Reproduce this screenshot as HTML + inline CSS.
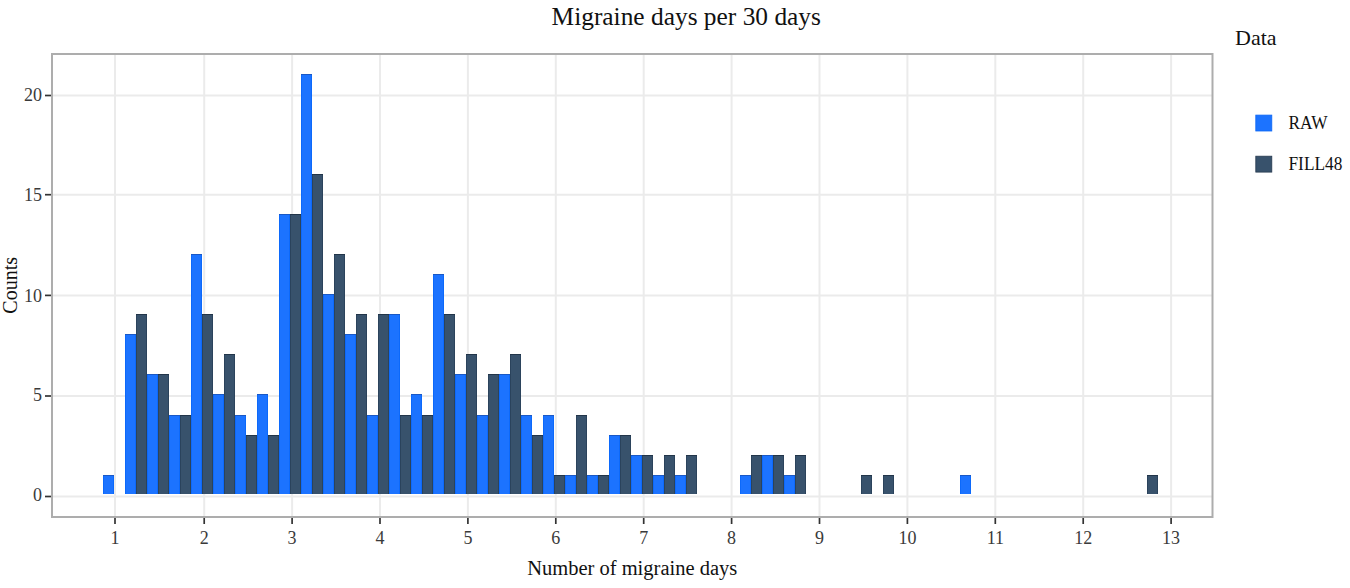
<!DOCTYPE html>
<html><head><meta charset="utf-8"><style>
html,body{margin:0;padding:0;background:#fff;width:1350px;height:588px;overflow:hidden}
svg{display:block}
text{font-family:"Liberation Serif",serif;fill:#222}
.tk{font-size:18px;fill:#3a3a3a}
</style></head><body>
<svg width="1350" height="588" viewBox="0 0 1350 588">
<rect x="0" y="0" width="1350" height="588" fill="#fff"/>
<line x1="115.00" y1="54" x2="115.00" y2="517" stroke="#ebebeb" stroke-width="2"/><line x1="204.20" y1="54" x2="204.20" y2="517" stroke="#ebebeb" stroke-width="2"/><line x1="292.10" y1="54" x2="292.10" y2="517" stroke="#ebebeb" stroke-width="2"/><line x1="380.00" y1="54" x2="380.00" y2="517" stroke="#ebebeb" stroke-width="2"/><line x1="467.90" y1="54" x2="467.90" y2="517" stroke="#ebebeb" stroke-width="2"/><line x1="555.80" y1="54" x2="555.80" y2="517" stroke="#ebebeb" stroke-width="2"/><line x1="643.70" y1="54" x2="643.70" y2="517" stroke="#ebebeb" stroke-width="2"/><line x1="731.60" y1="54" x2="731.60" y2="517" stroke="#ebebeb" stroke-width="2"/><line x1="819.50" y1="54" x2="819.50" y2="517" stroke="#ebebeb" stroke-width="2"/><line x1="907.40" y1="54" x2="907.40" y2="517" stroke="#ebebeb" stroke-width="2"/><line x1="995.30" y1="54" x2="995.30" y2="517" stroke="#ebebeb" stroke-width="2"/><line x1="1083.20" y1="54" x2="1083.20" y2="517" stroke="#ebebeb" stroke-width="2"/><line x1="1171.10" y1="54" x2="1171.10" y2="517" stroke="#ebebeb" stroke-width="2"/><line x1="52" y1="496.50" x2="1212" y2="496.50" stroke="#ebebeb" stroke-width="2"/><line x1="52" y1="396.00" x2="1212" y2="396.00" stroke="#ebebeb" stroke-width="2"/><line x1="52" y1="295.40" x2="1212" y2="295.40" stroke="#ebebeb" stroke-width="2"/><line x1="52" y1="194.70" x2="1212" y2="194.70" stroke="#ebebeb" stroke-width="2"/><line x1="52" y1="95.50" x2="1212" y2="95.50" stroke="#ebebeb" stroke-width="2"/>
<g shape-rendering="crispEdges"><rect x="103" y="475" width="11" height="19" fill="#1c73ff"/><rect x="125" y="334" width="11" height="160" fill="#1c73ff"/><rect x="147" y="374" width="11" height="120" fill="#1c73ff"/><rect x="169" y="415" width="11" height="79" fill="#1c73ff"/><rect x="191" y="254" width="11" height="240" fill="#1c73ff"/><rect x="213" y="394" width="11" height="100" fill="#1c73ff"/><rect x="235" y="415" width="11" height="79" fill="#1c73ff"/><rect x="257" y="394" width="11" height="100" fill="#1c73ff"/><rect x="279" y="214" width="11" height="280" fill="#1c73ff"/><rect x="301" y="74" width="11" height="420" fill="#1c73ff"/><rect x="323" y="294" width="11" height="200" fill="#1c73ff"/><rect x="345" y="334" width="11" height="160" fill="#1c73ff"/><rect x="367" y="415" width="11" height="79" fill="#1c73ff"/><rect x="389" y="314" width="11" height="180" fill="#1c73ff"/><rect x="411" y="394" width="11" height="100" fill="#1c73ff"/><rect x="433" y="274" width="11" height="220" fill="#1c73ff"/><rect x="455" y="374" width="11" height="120" fill="#1c73ff"/><rect x="477" y="415" width="11" height="79" fill="#1c73ff"/><rect x="499" y="374" width="11" height="120" fill="#1c73ff"/><rect x="521" y="415" width="11" height="79" fill="#1c73ff"/><rect x="543" y="415" width="11" height="79" fill="#1c73ff"/><rect x="565" y="475" width="11" height="19" fill="#1c73ff"/><rect x="587" y="475" width="11" height="19" fill="#1c73ff"/><rect x="609" y="435" width="11" height="59" fill="#1c73ff"/><rect x="631" y="455" width="11" height="39" fill="#1c73ff"/><rect x="653" y="475" width="11" height="19" fill="#1c73ff"/><rect x="675" y="475" width="11" height="19" fill="#1c73ff"/><rect x="740" y="475" width="11" height="19" fill="#1c73ff"/><rect x="762" y="455" width="11" height="39" fill="#1c73ff"/><rect x="784" y="475" width="11" height="19" fill="#1c73ff"/><rect x="960" y="475" width="11" height="19" fill="#1c73ff"/><rect x="136" y="314" width="11" height="180" fill="#38526c"/><rect x="158" y="374" width="11" height="120" fill="#38526c"/><rect x="180" y="415" width="11" height="79" fill="#38526c"/><rect x="202" y="314" width="11" height="180" fill="#38526c"/><rect x="224" y="354" width="11" height="140" fill="#38526c"/><rect x="246" y="435" width="11" height="59" fill="#38526c"/><rect x="268" y="435" width="11" height="59" fill="#38526c"/><rect x="290" y="214" width="11" height="280" fill="#38526c"/><rect x="312" y="174" width="11" height="320" fill="#38526c"/><rect x="334" y="254" width="11" height="240" fill="#38526c"/><rect x="356" y="314" width="11" height="180" fill="#38526c"/><rect x="378" y="314" width="11" height="180" fill="#38526c"/><rect x="400" y="415" width="11" height="79" fill="#38526c"/><rect x="422" y="415" width="11" height="79" fill="#38526c"/><rect x="444" y="314" width="11" height="180" fill="#38526c"/><rect x="466" y="354" width="11" height="140" fill="#38526c"/><rect x="488" y="374" width="11" height="120" fill="#38526c"/><rect x="510" y="354" width="11" height="140" fill="#38526c"/><rect x="532" y="435" width="11" height="59" fill="#38526c"/><rect x="554" y="475" width="11" height="19" fill="#38526c"/><rect x="576" y="415" width="11" height="79" fill="#38526c"/><rect x="598" y="475" width="11" height="19" fill="#38526c"/><rect x="620" y="435" width="11" height="59" fill="#38526c"/><rect x="642" y="455" width="11" height="39" fill="#38526c"/><rect x="664" y="455" width="11" height="39" fill="#38526c"/><rect x="686" y="455" width="11" height="39" fill="#38526c"/><rect x="751" y="455" width="11" height="39" fill="#38526c"/><rect x="773" y="455" width="11" height="39" fill="#38526c"/><rect x="795" y="455" width="11" height="39" fill="#38526c"/><rect x="861" y="475" width="11" height="19" fill="#38526c"/><rect x="883" y="475" width="11" height="19" fill="#38526c"/><rect x="1147" y="475" width="11" height="19" fill="#38526c"/><rect x="103" y="475" width="1" height="19" fill="#0c69fb"/><rect x="113" y="475" width="1" height="19" fill="#0c69fb"/><rect x="103" y="475" width="11" height="1" fill="#1a58c4"/><rect x="125" y="334" width="1" height="160" fill="#0c69fb"/><rect x="135" y="334" width="1" height="160" fill="#0c69fb"/><rect x="125" y="334" width="11" height="1" fill="#1a58c4"/><rect x="147" y="374" width="1" height="120" fill="#0c69fb"/><rect x="157" y="374" width="1" height="120" fill="#0c69fb"/><rect x="147" y="374" width="11" height="1" fill="#1a58c4"/><rect x="169" y="415" width="1" height="79" fill="#0c69fb"/><rect x="179" y="415" width="1" height="79" fill="#0c69fb"/><rect x="169" y="415" width="11" height="1" fill="#1a58c4"/><rect x="191" y="254" width="1" height="240" fill="#0c69fb"/><rect x="201" y="254" width="1" height="240" fill="#0c69fb"/><rect x="191" y="254" width="11" height="1" fill="#1a58c4"/><rect x="213" y="394" width="1" height="100" fill="#0c69fb"/><rect x="223" y="394" width="1" height="100" fill="#0c69fb"/><rect x="213" y="394" width="11" height="1" fill="#1a58c4"/><rect x="235" y="415" width="1" height="79" fill="#0c69fb"/><rect x="245" y="415" width="1" height="79" fill="#0c69fb"/><rect x="235" y="415" width="11" height="1" fill="#1a58c4"/><rect x="257" y="394" width="1" height="100" fill="#0c69fb"/><rect x="267" y="394" width="1" height="100" fill="#0c69fb"/><rect x="257" y="394" width="11" height="1" fill="#1a58c4"/><rect x="279" y="214" width="1" height="280" fill="#0c69fb"/><rect x="289" y="214" width="1" height="280" fill="#0c69fb"/><rect x="279" y="214" width="11" height="1" fill="#1a58c4"/><rect x="301" y="74" width="1" height="420" fill="#0c69fb"/><rect x="311" y="74" width="1" height="420" fill="#0c69fb"/><rect x="301" y="74" width="11" height="1" fill="#1a58c4"/><rect x="323" y="294" width="1" height="200" fill="#0c69fb"/><rect x="333" y="294" width="1" height="200" fill="#0c69fb"/><rect x="323" y="294" width="11" height="1" fill="#1a58c4"/><rect x="345" y="334" width="1" height="160" fill="#0c69fb"/><rect x="355" y="334" width="1" height="160" fill="#0c69fb"/><rect x="345" y="334" width="11" height="1" fill="#1a58c4"/><rect x="367" y="415" width="1" height="79" fill="#0c69fb"/><rect x="377" y="415" width="1" height="79" fill="#0c69fb"/><rect x="367" y="415" width="11" height="1" fill="#1a58c4"/><rect x="389" y="314" width="1" height="180" fill="#0c69fb"/><rect x="399" y="314" width="1" height="180" fill="#0c69fb"/><rect x="389" y="314" width="11" height="1" fill="#1a58c4"/><rect x="411" y="394" width="1" height="100" fill="#0c69fb"/><rect x="421" y="394" width="1" height="100" fill="#0c69fb"/><rect x="411" y="394" width="11" height="1" fill="#1a58c4"/><rect x="433" y="274" width="1" height="220" fill="#0c69fb"/><rect x="443" y="274" width="1" height="220" fill="#0c69fb"/><rect x="433" y="274" width="11" height="1" fill="#1a58c4"/><rect x="455" y="374" width="1" height="120" fill="#0c69fb"/><rect x="465" y="374" width="1" height="120" fill="#0c69fb"/><rect x="455" y="374" width="11" height="1" fill="#1a58c4"/><rect x="477" y="415" width="1" height="79" fill="#0c69fb"/><rect x="487" y="415" width="1" height="79" fill="#0c69fb"/><rect x="477" y="415" width="11" height="1" fill="#1a58c4"/><rect x="499" y="374" width="1" height="120" fill="#0c69fb"/><rect x="509" y="374" width="1" height="120" fill="#0c69fb"/><rect x="499" y="374" width="11" height="1" fill="#1a58c4"/><rect x="521" y="415" width="1" height="79" fill="#0c69fb"/><rect x="531" y="415" width="1" height="79" fill="#0c69fb"/><rect x="521" y="415" width="11" height="1" fill="#1a58c4"/><rect x="543" y="415" width="1" height="79" fill="#0c69fb"/><rect x="553" y="415" width="1" height="79" fill="#0c69fb"/><rect x="543" y="415" width="11" height="1" fill="#1a58c4"/><rect x="565" y="475" width="1" height="19" fill="#0c69fb"/><rect x="575" y="475" width="1" height="19" fill="#0c69fb"/><rect x="565" y="475" width="11" height="1" fill="#1a58c4"/><rect x="587" y="475" width="1" height="19" fill="#0c69fb"/><rect x="597" y="475" width="1" height="19" fill="#0c69fb"/><rect x="587" y="475" width="11" height="1" fill="#1a58c4"/><rect x="609" y="435" width="1" height="59" fill="#0c69fb"/><rect x="619" y="435" width="1" height="59" fill="#0c69fb"/><rect x="609" y="435" width="11" height="1" fill="#1a58c4"/><rect x="631" y="455" width="1" height="39" fill="#0c69fb"/><rect x="641" y="455" width="1" height="39" fill="#0c69fb"/><rect x="631" y="455" width="11" height="1" fill="#1a58c4"/><rect x="653" y="475" width="1" height="19" fill="#0c69fb"/><rect x="663" y="475" width="1" height="19" fill="#0c69fb"/><rect x="653" y="475" width="11" height="1" fill="#1a58c4"/><rect x="675" y="475" width="1" height="19" fill="#0c69fb"/><rect x="685" y="475" width="1" height="19" fill="#0c69fb"/><rect x="675" y="475" width="11" height="1" fill="#1a58c4"/><rect x="740" y="475" width="1" height="19" fill="#0c69fb"/><rect x="750" y="475" width="1" height="19" fill="#0c69fb"/><rect x="740" y="475" width="11" height="1" fill="#1a58c4"/><rect x="762" y="455" width="1" height="39" fill="#0c69fb"/><rect x="772" y="455" width="1" height="39" fill="#0c69fb"/><rect x="762" y="455" width="11" height="1" fill="#1a58c4"/><rect x="784" y="475" width="1" height="19" fill="#0c69fb"/><rect x="794" y="475" width="1" height="19" fill="#0c69fb"/><rect x="784" y="475" width="11" height="1" fill="#1a58c4"/><rect x="960" y="475" width="1" height="19" fill="#0c69fb"/><rect x="970" y="475" width="1" height="19" fill="#0c69fb"/><rect x="960" y="475" width="11" height="1" fill="#1a58c4"/><rect x="136" y="314" width="1" height="180" fill="#2b435c"/><rect x="146" y="314" width="1" height="180" fill="#2b435c"/><rect x="136" y="314" width="11" height="1" fill="#223549"/><rect x="158" y="374" width="1" height="120" fill="#2b435c"/><rect x="168" y="374" width="1" height="120" fill="#2b435c"/><rect x="158" y="374" width="11" height="1" fill="#223549"/><rect x="180" y="415" width="1" height="79" fill="#2b435c"/><rect x="190" y="415" width="1" height="79" fill="#2b435c"/><rect x="180" y="415" width="11" height="1" fill="#223549"/><rect x="202" y="314" width="1" height="180" fill="#2b435c"/><rect x="212" y="314" width="1" height="180" fill="#2b435c"/><rect x="202" y="314" width="11" height="1" fill="#223549"/><rect x="224" y="354" width="1" height="140" fill="#2b435c"/><rect x="234" y="354" width="1" height="140" fill="#2b435c"/><rect x="224" y="354" width="11" height="1" fill="#223549"/><rect x="246" y="435" width="1" height="59" fill="#2b435c"/><rect x="256" y="435" width="1" height="59" fill="#2b435c"/><rect x="246" y="435" width="11" height="1" fill="#223549"/><rect x="268" y="435" width="1" height="59" fill="#2b435c"/><rect x="278" y="435" width="1" height="59" fill="#2b435c"/><rect x="268" y="435" width="11" height="1" fill="#223549"/><rect x="290" y="214" width="1" height="280" fill="#2b435c"/><rect x="300" y="214" width="1" height="280" fill="#2b435c"/><rect x="290" y="214" width="11" height="1" fill="#223549"/><rect x="312" y="174" width="1" height="320" fill="#2b435c"/><rect x="322" y="174" width="1" height="320" fill="#2b435c"/><rect x="312" y="174" width="11" height="1" fill="#223549"/><rect x="334" y="254" width="1" height="240" fill="#2b435c"/><rect x="344" y="254" width="1" height="240" fill="#2b435c"/><rect x="334" y="254" width="11" height="1" fill="#223549"/><rect x="356" y="314" width="1" height="180" fill="#2b435c"/><rect x="366" y="314" width="1" height="180" fill="#2b435c"/><rect x="356" y="314" width="11" height="1" fill="#223549"/><rect x="378" y="314" width="1" height="180" fill="#2b435c"/><rect x="388" y="314" width="1" height="180" fill="#2b435c"/><rect x="378" y="314" width="11" height="1" fill="#223549"/><rect x="400" y="415" width="1" height="79" fill="#2b435c"/><rect x="410" y="415" width="1" height="79" fill="#2b435c"/><rect x="400" y="415" width="11" height="1" fill="#223549"/><rect x="422" y="415" width="1" height="79" fill="#2b435c"/><rect x="432" y="415" width="1" height="79" fill="#2b435c"/><rect x="422" y="415" width="11" height="1" fill="#223549"/><rect x="444" y="314" width="1" height="180" fill="#2b435c"/><rect x="454" y="314" width="1" height="180" fill="#2b435c"/><rect x="444" y="314" width="11" height="1" fill="#223549"/><rect x="466" y="354" width="1" height="140" fill="#2b435c"/><rect x="476" y="354" width="1" height="140" fill="#2b435c"/><rect x="466" y="354" width="11" height="1" fill="#223549"/><rect x="488" y="374" width="1" height="120" fill="#2b435c"/><rect x="498" y="374" width="1" height="120" fill="#2b435c"/><rect x="488" y="374" width="11" height="1" fill="#223549"/><rect x="510" y="354" width="1" height="140" fill="#2b435c"/><rect x="520" y="354" width="1" height="140" fill="#2b435c"/><rect x="510" y="354" width="11" height="1" fill="#223549"/><rect x="532" y="435" width="1" height="59" fill="#2b435c"/><rect x="542" y="435" width="1" height="59" fill="#2b435c"/><rect x="532" y="435" width="11" height="1" fill="#223549"/><rect x="554" y="475" width="1" height="19" fill="#2b435c"/><rect x="564" y="475" width="1" height="19" fill="#2b435c"/><rect x="554" y="475" width="11" height="1" fill="#223549"/><rect x="576" y="415" width="1" height="79" fill="#2b435c"/><rect x="586" y="415" width="1" height="79" fill="#2b435c"/><rect x="576" y="415" width="11" height="1" fill="#223549"/><rect x="598" y="475" width="1" height="19" fill="#2b435c"/><rect x="608" y="475" width="1" height="19" fill="#2b435c"/><rect x="598" y="475" width="11" height="1" fill="#223549"/><rect x="620" y="435" width="1" height="59" fill="#2b435c"/><rect x="630" y="435" width="1" height="59" fill="#2b435c"/><rect x="620" y="435" width="11" height="1" fill="#223549"/><rect x="642" y="455" width="1" height="39" fill="#2b435c"/><rect x="652" y="455" width="1" height="39" fill="#2b435c"/><rect x="642" y="455" width="11" height="1" fill="#223549"/><rect x="664" y="455" width="1" height="39" fill="#2b435c"/><rect x="674" y="455" width="1" height="39" fill="#2b435c"/><rect x="664" y="455" width="11" height="1" fill="#223549"/><rect x="686" y="455" width="1" height="39" fill="#2b435c"/><rect x="696" y="455" width="1" height="39" fill="#2b435c"/><rect x="686" y="455" width="11" height="1" fill="#223549"/><rect x="751" y="455" width="1" height="39" fill="#2b435c"/><rect x="761" y="455" width="1" height="39" fill="#2b435c"/><rect x="751" y="455" width="11" height="1" fill="#223549"/><rect x="773" y="455" width="1" height="39" fill="#2b435c"/><rect x="783" y="455" width="1" height="39" fill="#2b435c"/><rect x="773" y="455" width="11" height="1" fill="#223549"/><rect x="795" y="455" width="1" height="39" fill="#2b435c"/><rect x="805" y="455" width="1" height="39" fill="#2b435c"/><rect x="795" y="455" width="11" height="1" fill="#223549"/><rect x="861" y="475" width="1" height="19" fill="#2b435c"/><rect x="871" y="475" width="1" height="19" fill="#2b435c"/><rect x="861" y="475" width="11" height="1" fill="#223549"/><rect x="883" y="475" width="1" height="19" fill="#2b435c"/><rect x="893" y="475" width="1" height="19" fill="#2b435c"/><rect x="883" y="475" width="11" height="1" fill="#223549"/><rect x="1147" y="475" width="1" height="19" fill="#2b435c"/><rect x="1157" y="475" width="1" height="19" fill="#2b435c"/><rect x="1147" y="475" width="11" height="1" fill="#223549"/></g>
<rect x="52" y="54" width="1160.5" height="463" fill="none" stroke="#adadad" stroke-width="2"/>
<line x1="115.00" y1="518" x2="115.00" y2="524" stroke="#333" stroke-width="1.7"/><text x="115.00" y="543.7" text-anchor="middle" class="tk">1</text><line x1="204.20" y1="518" x2="204.20" y2="524" stroke="#333" stroke-width="1.7"/><text x="204.20" y="543.7" text-anchor="middle" class="tk">2</text><line x1="292.10" y1="518" x2="292.10" y2="524" stroke="#333" stroke-width="1.7"/><text x="292.10" y="543.7" text-anchor="middle" class="tk">3</text><line x1="380.00" y1="518" x2="380.00" y2="524" stroke="#333" stroke-width="1.7"/><text x="380.00" y="543.7" text-anchor="middle" class="tk">4</text><line x1="467.90" y1="518" x2="467.90" y2="524" stroke="#333" stroke-width="1.7"/><text x="467.90" y="543.7" text-anchor="middle" class="tk">5</text><line x1="555.80" y1="518" x2="555.80" y2="524" stroke="#333" stroke-width="1.7"/><text x="555.80" y="543.7" text-anchor="middle" class="tk">6</text><line x1="643.70" y1="518" x2="643.70" y2="524" stroke="#333" stroke-width="1.7"/><text x="643.70" y="543.7" text-anchor="middle" class="tk">7</text><line x1="731.60" y1="518" x2="731.60" y2="524" stroke="#333" stroke-width="1.7"/><text x="731.60" y="543.7" text-anchor="middle" class="tk">8</text><line x1="819.50" y1="518" x2="819.50" y2="524" stroke="#333" stroke-width="1.7"/><text x="819.50" y="543.7" text-anchor="middle" class="tk">9</text><line x1="907.40" y1="518" x2="907.40" y2="524" stroke="#333" stroke-width="1.7"/><text x="907.40" y="543.7" text-anchor="middle" class="tk">10</text><line x1="995.30" y1="518" x2="995.30" y2="524" stroke="#333" stroke-width="1.7"/><text x="995.30" y="543.7" text-anchor="middle" class="tk">11</text><line x1="1083.20" y1="518" x2="1083.20" y2="524" stroke="#333" stroke-width="1.7"/><text x="1083.20" y="543.7" text-anchor="middle" class="tk">12</text><line x1="1171.10" y1="518" x2="1171.10" y2="524" stroke="#333" stroke-width="1.7"/><text x="1171.10" y="543.7" text-anchor="middle" class="tk">13</text><line x1="45" y1="496.50" x2="51" y2="496.50" stroke="#333" stroke-width="1.7"/><text x="42.0" y="500.70" text-anchor="end" class="tk">0</text><line x1="45" y1="396.00" x2="51" y2="396.00" stroke="#333" stroke-width="1.7"/><text x="42.0" y="400.70" text-anchor="end" class="tk">5</text><line x1="45" y1="295.40" x2="51" y2="295.40" stroke="#333" stroke-width="1.7"/><text x="42.0" y="301.70" text-anchor="end" class="tk">10</text><line x1="45" y1="194.70" x2="51" y2="194.70" stroke="#333" stroke-width="1.7"/><text x="42.0" y="200.80" text-anchor="end" class="tk">15</text><line x1="45" y1="95.50" x2="51" y2="95.50" stroke="#333" stroke-width="1.7"/><text x="42.0" y="100.70" text-anchor="end" class="tk">20</text>
<text x="686.25" y="25.2" text-anchor="middle" style="font-size:25.4px;fill:#111">Migraine days per 30 days</text>
<text x="632.2" y="574.5" text-anchor="middle" style="font-size:20.5px;fill:#111">Number of migraine days</text>
<text transform="translate(16.5,285.3) rotate(-90)" text-anchor="middle" style="font-size:20px;fill:#111">Counts</text>
<text x="1235" y="45.2" style="font-size:22px;fill:#111">Data</text>
<rect x="1255.8" y="115.1" width="16.0" height="15.9" fill="#1c73ff" stroke="#0c66f5" stroke-width="0.8"/>
<rect x="1255.8" y="156.2" width="16.0" height="15.9" fill="#38526c" stroke="#26394f" stroke-width="0.8"/>
<text transform="translate(1288.5,128.9) scale(1,1.12)" style="font-size:17.3px;fill:#111">RAW</text>
<text transform="translate(1288.5,169.9) scale(1,1.12)" style="font-size:17.3px;fill:#111">FILL48</text>
</svg>
</body></html>
